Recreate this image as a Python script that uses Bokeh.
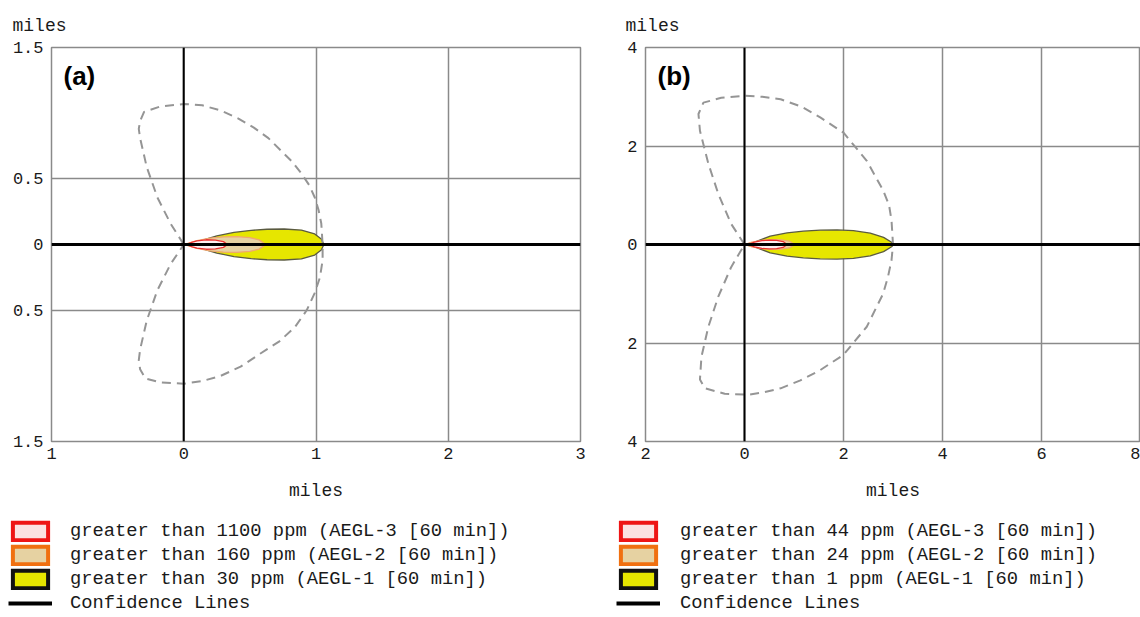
from bokeh.plotting import figure
from bokeh.models import (Label, Legend, LegendItem, FixedTicker,
                          CustomJSTickFormatter, Span, Range1d)
from bokeh.layouts import row, column
from bokeh.embed import file_html
from bokeh.resources import INLINE

MONO = "Liberation Mono"

# ---------------- panel (a) data ----------------
a_xticks = [-1, 0, 1, 2, 3]
a_yticks = [-1.5, -0.5, 0, 0.5, 1.5]
a_aegl1_x = [0, 0.08, 0.25, 0.38, 0.51, 0.63, 0.76, 0.89, 0.99, 1.04, 1.06]
a_aegl1_hw = [0, 0.015, 0.065, 0.092, 0.108, 0.116, 0.118, 0.11, 0.08, 0.042, 0]
a_aegl2_x = [0, 0.1, 0.2, 0.3, 0.4, 0.5, 0.57, 0.62]
a_aegl2_hw = [0, 0.03, 0.048, 0.058, 0.06, 0.052, 0.035, 0]
a_aegl3_x = [0.02, 0.06, 0.1, 0.17, 0.24, 0.3, 0.33]
a_aegl3_hw = [0, 0.016, 0.028, 0.036, 0.034, 0.022, 0]
a_conf_x = [0, -0.10, -0.20, -0.28, -0.33, -0.34, -0.33, -0.30, -0.18, 0, 0.14, 0.28, 0.41, 0.53, 0.64,
            0.74, 0.82, 0.89, 0.95, 0.99, 1.02, 1.04, 1.05,
            1.05, 1.03, 0.99, 0.93, 0.84, 0.72, 0.58, 0.43, 0.28, 0.14, 0, -0.18, -0.29, -0.33,
            -0.34, -0.33, -0.28, -0.20, -0.10, 0]
a_conf_y = [0, 0.16, 0.36, 0.59, 0.81, 0.88, 0.94, 1.01, 1.05, 1.07, 1.06, 1.02, 0.96, 0.89, 0.81,
            0.71, 0.63, 0.54, 0.45, 0.36, 0.26, 0.16, 0,
            -0.12, -0.25, -0.37, -0.50, -0.63, -0.74, -0.83, -0.93, -1.00, -1.04, -1.06, -1.05, -1.02,
            -0.95, -0.88, -0.80, -0.58, -0.35, -0.15, 0]
a_labels = ["greater than 1100 ppm (AEGL-3 [60 min])",
            "greater than 160 ppm (AEGL-2 [60 min])",
            "greater than 30 ppm (AEGL-1 [60 min])",
            "Confidence Lines"]

# ---------------- panel (b) data ----------------
b_xticks = [-2, 0, 2, 4, 6, 8]
b_yticks = [-4, -2, 0, 2, 4]
b_aegl1_x = [0, 0.18, 0.52, 0.86, 1.19, 1.53, 1.87, 2.20, 2.54, 2.81, 2.98, 3.01]
b_aegl1_hw = [0, 0.04, 0.17, 0.235, 0.27, 0.29, 0.295, 0.28, 0.23, 0.145, 0.04, 0]
b_aegl2_x = [0, 0.15, 0.35, 0.55, 0.75, 0.9, 1.02]
b_aegl2_hw = [0, 0.05, 0.085, 0.1, 0.095, 0.07, 0]
b_aegl3_x = [0.08, 0.2, 0.35, 0.5, 0.65, 0.78, 0.86]
b_aegl3_hw = [0, 0.05, 0.08, 0.09, 0.085, 0.06, 0]
b_conf_x = [0, -0.27, -0.53, -0.73, -0.90, -0.93, -0.83, -0.47, 0, 0.36, 0.73, 1.15, 1.53, 2.0, 2.47,
            2.8, 2.92, 2.97, 3.0,
            2.97, 2.9, 2.8, 2.47, 2.0, 1.53, 1.13, 0.73, 0.4, 0.07, -0.4, -0.8, -0.90, -0.87, -0.73,
            -0.53, -0.27, 0]
b_conf_y = [0, 0.42, 1.03, 1.64, 2.31, 2.65, 2.88, 2.98, 3.02, 3.0, 2.95, 2.8, 2.58, 2.27, 1.70,
            1.10, 0.8, 0.49, 0,
            -0.32, -0.65, -1.0, -1.67, -2.24, -2.55, -2.76, -2.92, -3.0, -3.05, -3.03, -2.92, -2.74,
            -2.28, -1.67, -1.06, -0.46, 0]
b_labels = ["greater than 44 ppm (AEGL-3 [60 min])",
            "greater than 24 ppm (AEGL-2 [60 min])",
            "greater than 1 ppm (AEGL-1 [60 min])",
            "Confidence Lines"]

GRID = "#8a8a8a"
TXT = "#1a1a1a"
Z1 = dict(fill="#e6e600", line="#5a5a40", sw_line="#111111")
Z2 = dict(fill="#e6d2a2", line="#f0a870", sw_line="#f07010")
Z3 = dict(fill="#fdf0f0", line="#e83030", sw_line="#ee1515")
SW3_FILL = "#fbe2e2"

MAIN_H = 515
LEG_H = 617 - MAIN_H


def polygon(xs, hw):
    return list(xs) + list(xs[::-1]), list(hw) + [-h for h in hw[::-1]]


def panel(width, left, right, xr, yr, xticks, yticks, tag, zones, cx, cy, title_off):
    p = figure(width=width, height=MAIN_H, x_range=Range1d(*xr), y_range=Range1d(*yr),
               output_backend="svg", toolbar_location=None,
               min_border_left=left, min_border_right=right,
               min_border_top=47, min_border_bottom=MAIN_H - 441)
    p.background_fill_color = "white"
    p.border_fill_color = "white"
    p.outline_line_color = GRID
    p.outline_line_width = 1.5
    p.title.text = "miles"
    p.title.align = "left"
    p.title.offset = title_off
    p.title.standoff = 23
    p.title.text_font = MONO
    p.title.text_font_size = "18px"
    p.title.text_font_style = "normal"
    p.title.text_color = TXT
    fmt = CustomJSTickFormatter(code="return Math.abs(tick).toString()")
    for ax, ticks in ((p.xaxis[0], xticks), (p.yaxis[0], yticks)):
        ax.ticker = FixedTicker(ticks=ticks)
        ax.formatter = fmt
        ax.axis_line_color = None
        ax.major_tick_line_color = None
        ax.minor_tick_line_color = None
        ax.major_tick_out = 0
        ax.major_tick_in = 0
        ax.major_label_text_font = MONO
        ax.major_label_text_font_size = "17px"
        ax.major_label_text_color = TXT
    p.xaxis.major_label_standoff = 6
    p.yaxis.major_label_standoff = 8
    p.xaxis.axis_label = "miles"
    p.xaxis.axis_label_text_font = MONO
    p.xaxis.axis_label_text_font_size = "18px"
    p.xaxis.axis_label_text_font_style = "normal"
    p.xaxis.axis_label_text_color = TXT
    p.xaxis.axis_label_standoff = 19
    p.xgrid.ticker = FixedTicker(ticks=xticks)
    p.ygrid.ticker = FixedTicker(ticks=yticks)
    for g in (p.xgrid[0], p.ygrid[0]):
        g.grid_line_color = GRID
        g.grid_line_width = 1.5

    for (xs, hw), st in zip(zones, (Z1, Z2, Z3)):
        px, py = polygon(xs, hw)
        p.patch(px, py, fill_color=st["fill"], line_color=st["line"], line_width=1.3)

    p.line(cx, cy, line_color="#959595", line_width=2, line_dash="9 6")

    p.add_layout(Span(location=0, dimension="height", line_color="black", line_width=2))
    p.add_layout(Span(location=0, dimension="width", line_color="black", line_width=3))

    p.add_layout(Label(x=12, y=441 - 75, x_units="screen", y_units="screen", text=tag,
                       text_font="Liberation Sans", text_font_style="bold",
                       text_font_size="26px", text_color="black",
                       text_baseline="middle", text_align="left"))
    return p


def add_legend(f, labels, zones, cx, cy, vx, std):
    sw_styles = [(SW3_FILL, Z3["sw_line"]), (Z2["fill"], Z2["sw_line"]), (Z1["fill"], Z1["sw_line"])]
    rs = []
    for (xs, hw), (fc, lc) in zip(zones[::-1], sw_styles):
        px, py = polygon(xs, hw)
        r = f.patch(px, py, fill_color=fc, line_color=lc, line_width=4, line_join="miter")
        r.visible = False
        rs.append(r)
    rl = f.line(cx, cy, line_color="black", line_width=4)
    rl.visible = False
    rs.append(rl)
    items = [LegendItem(label=l, renderers=[r]) for l, r in zip(labels, rs)]
    leg_h = 4 * 22 + 3 * 2
    leg = Legend(items=items, location=(vx, LEG_H - 5 - leg_h), orientation="vertical",
                 glyph_width=44, glyph_height=22, label_height=22, spacing=2,
                 padding=0, margin=0, label_standoff=std,
                 label_text_font=MONO, label_text_font_size="18.8px",
                 label_text_color=TXT, click_policy="none",
                 border_line_color=None, background_fill_alpha=0)
    f.add_layout(leg)


a_zones = [(a_aegl1_x, a_aegl1_hw), (a_aegl2_x, a_aegl2_hw), (a_aegl3_x, a_aegl3_hw)]
b_zones = [(b_aegl1_x, b_aegl1_hw), (b_aegl2_x, b_aegl2_hw), (b_aegl3_x, b_aegl3_hw)]

pa = panel(600, 51, 20, (-1, 3), (-1.5, 1.5), a_xticks, a_yticks, "(a)",
           a_zones, a_conf_x, a_conf_y, -39)
pb = panel(540, 45, 0, (-2, 8), (-4, 4), b_xticks, b_yticks, "(b)",
           b_zones, b_conf_x, b_conf_y, -20)

lf = figure(width=1140, height=LEG_H, x_range=Range1d(0, 1), y_range=Range1d(0, 1),
            output_backend="svg", toolbar_location=None,
            min_border=0, min_border_left=0, min_border_right=0,
            min_border_top=0, min_border_bottom=0)
lf.axis.visible = False
lf.grid.visible = False
lf.outline_line_color = None
lf.background_fill_color = "white"
lf.border_fill_color = "white"
add_legend(lf, a_labels, a_zones, a_conf_x, a_conf_y, 8, 18)
add_legend(lf, b_labels, b_zones, b_conf_x, b_conf_y, 616, 20)

layout = column(row(pa, pb), lf)
open("out.html", "w").write(file_html(layout, INLINE))
